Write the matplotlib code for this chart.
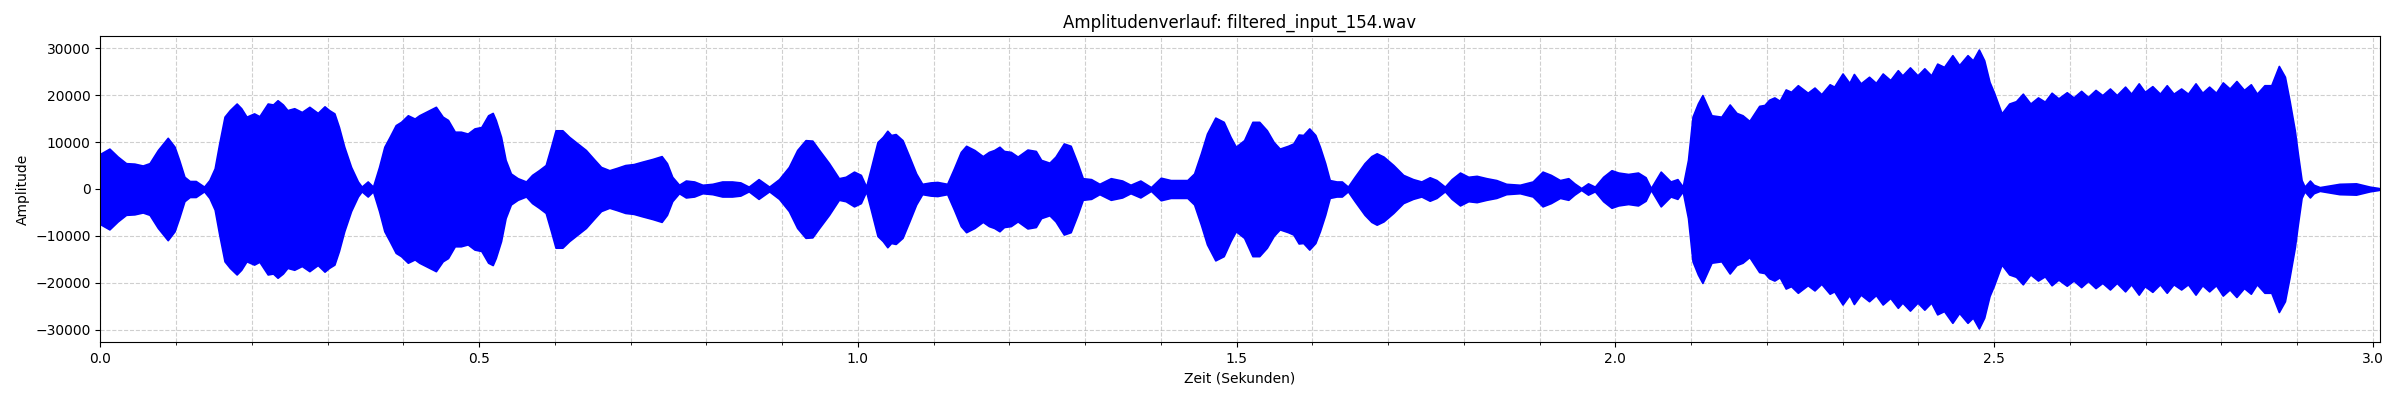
import matplotlib
matplotlib.use('Agg')
import matplotlib.pyplot as plt
from matplotlib.ticker import MultipleLocator

# Envelope of the waveform (time in s, peak amplitude)
times = [
    0.000, 0.012, 0.023, 0.034, 0.045, 0.056, 0.065, 0.076, 0.089, 0.098,
    0.104, 0.111, 0.118, 0.126, 0.137, 0.144, 0.151, 0.157, 0.164, 0.171,
    0.180, 0.186, 0.193, 0.203, 0.210, 0.221, 0.228, 0.234, 0.241, 0.247,
    0.256, 0.266, 0.276, 0.287, 0.296, 0.302, 0.309, 0.315, 0.322, 0.331,
    0.340, 0.345, 0.353, 0.360, 0.368, 0.375, 0.382, 0.390, 0.397, 0.406,
    0.415, 0.421, 0.432, 0.443, 0.452, 0.459, 0.468, 0.476, 0.485, 0.494,
    0.503, 0.512, 0.518, 0.522, 0.529, 0.535, 0.542, 0.551, 0.562, 0.570,
    0.579, 0.588, 0.595, 0.601, 0.610, 0.619, 0.630, 0.641, 0.652, 0.661,
    0.672, 0.682, 0.693, 0.704, 0.715, 0.729, 0.741, 0.748, 0.755, 0.764,
    0.773, 0.784, 0.795, 0.808, 0.821, 0.834, 0.845, 0.856, 0.869, 0.883,
    0.896, 0.909, 0.920, 0.931, 0.940, 0.949, 0.962, 0.975, 0.984, 0.995,
    1.004, 1.011, 1.018, 1.026, 1.033, 1.039, 1.044, 1.050, 1.059, 1.068,
    1.077, 1.085, 1.096, 1.105, 1.118, 1.127, 1.136, 1.143, 1.154, 1.165,
    1.173, 1.180, 1.187, 1.193, 1.202, 1.211, 1.224, 1.235, 1.242, 1.253,
    1.261, 1.272, 1.281, 1.290, 1.297, 1.308, 1.319, 1.334, 1.349, 1.360,
    1.373, 1.387, 1.400, 1.413, 1.435, 1.444, 1.453, 1.461, 1.472, 1.483,
    1.492, 1.499, 1.510, 1.521, 1.530, 1.540, 1.549, 1.557, 1.568, 1.575,
    1.582, 1.588, 1.596, 1.604, 1.610, 1.617, 1.623, 1.632, 1.639, 1.647,
    1.656, 1.669, 1.678, 1.685, 1.694, 1.707, 1.720, 1.733, 1.744, 1.755,
    1.764, 1.775, 1.784, 1.795, 1.806, 1.817, 1.830, 1.843, 1.856, 1.874,
    1.891, 1.904, 1.915, 1.927, 1.938, 1.946, 1.955, 1.964, 1.973, 1.984,
    1.995, 2.004, 2.017, 2.030, 2.040, 2.047, 2.060, 2.073, 2.082, 2.089,
    2.096, 2.102, 2.109, 2.115, 2.127, 2.140, 2.151, 2.160, 2.168, 2.177,
    2.190, 2.197, 2.203, 2.210, 2.217, 2.225, 2.232, 2.241, 2.254, 2.263,
    2.272, 2.283, 2.289, 2.300, 2.309, 2.315, 2.324, 2.335, 2.344, 2.353,
    2.363, 2.373, 2.379, 2.389, 2.399, 2.408, 2.417, 2.425, 2.434, 2.445,
    2.454, 2.465, 2.472, 2.480, 2.487, 2.494, 2.500, 2.510, 2.520, 2.529,
    2.538, 2.548, 2.558, 2.567, 2.576, 2.585, 2.596, 2.605, 2.615, 2.624,
    2.634, 2.643, 2.653, 2.662, 2.673, 2.681, 2.691, 2.699, 2.709, 2.719,
    2.728, 2.737, 2.747, 2.756, 2.766, 2.775, 2.784, 2.793, 2.802, 2.811,
    2.820, 2.830, 2.839, 2.847, 2.857, 2.866, 2.876, 2.884, 2.890, 2.897,
    2.901, 2.906, 2.910, 2.917, 2.922, 2.930, 2.956, 2.978, 2.996, 3.008,
]
amps = [
    7500, 8600, 6900, 5500, 5400, 5000, 5500, 8300, 10900, 9000,
    6200, 2600, 1700, 1700, 500, 1900, 4400, 9700, 15400, 16800,
    18200, 17200, 15400, 16100, 15500, 18200, 18000, 18900, 18000, 16800,
    17200, 16400, 17500, 16200, 17600, 16800, 16100, 13200, 9000, 4700,
    1600, 500, 1600, 500, 4700, 9000, 11100, 13600, 14300, 15700,
    15000, 15700, 16600, 17500, 15400, 14700, 12200, 12200, 11800, 12900,
    13200, 15700, 16200, 14700, 11100, 6200, 3300, 2300, 1600, 3000,
    4000, 5100, 9000, 12500, 12500, 11100, 9700, 8300, 6300, 4700,
    4000, 4500, 5100, 5300, 5800, 6400, 7000, 5500, 2600, 900,
    1800, 1600, 900, 1100, 1600, 1600, 1400, 500, 2100, 500,
    2100, 4700, 8300, 10400, 10300, 8300, 5500, 2300, 2600, 3700,
    3000, 500, 4900, 10000, 11100, 12400, 11500, 11700, 10400, 6900,
    3300, 1100, 1400, 1500, 1100, 4400, 7900, 9200, 8300, 7000,
    7900, 8300, 9000, 8100, 7900, 6900, 8400, 8100, 6200, 5600,
    6900, 9700, 9200, 5500, 2300, 2100, 1100, 2300, 1800, 900,
    1800, 400, 2400, 1900, 1900, 3300, 7600, 11800, 15200, 14300,
    11100, 9000, 10400, 14300, 14300, 12500, 10000, 8600, 9200, 9700,
    11600, 11500, 12900, 11500, 9000, 5500, 1900, 1600, 1600, 500,
    2600, 5500, 7000, 7600, 6900, 5100, 3000, 2100, 1600, 2500,
    1900, 500, 2100, 3500, 2600, 2800, 2300, 1900, 1100, 900,
    1600, 3700, 3000, 1900, 2300, 1200, 200, 1200, 500, 2600,
    4000, 3500, 3200, 3500, 2500, 200, 3700, 1600, 2100, 500,
    6200, 15400, 18200, 20000, 15700, 15400, 18000, 16200, 15700, 14500,
    17700, 17900, 19000, 19500, 18800, 21200, 20700, 22100, 20500, 21600,
    20200, 22300, 21800, 24600, 22600, 24500, 22500, 23900, 22600, 24600,
    23200, 25300, 24200, 25900, 24200, 25700, 24200, 26700, 26000, 28500,
    26400, 28500, 27400, 29700, 27400, 22800, 20500, 16100, 18200, 18700,
    20300, 18200, 19500, 18600, 20500, 19300, 20600, 19500, 20900, 19600,
    21100, 20000, 21400, 20000, 21800, 20300, 22500, 20700, 21900, 20300,
    22100, 20300, 21400, 20300, 22500, 20500, 21800, 20500, 22700, 21400,
    23000, 21100, 22300, 20300, 22100, 22100, 26200, 23900, 18900, 12500,
    7600, 1900, 500, 1800, 900, 400, 1100, 1200, 500, 200,
]
duration = 3.009

lower = [-a for a in amps]

plt.figure(figsize=(24, 4), dpi=100)
# zorder above the grid so the dashed lines are hidden under the waveform
plt.fill_between(times, lower, amps, color='blue', linewidth=1.2, zorder=2)
plt.title('Amplitudenverlauf: filtered_input_154.wav')
plt.xlabel('Zeit (Sekunden)')
plt.ylabel('Amplitude')
plt.xlim(0, duration)
plt.gca().xaxis.set_minor_locator(MultipleLocator(0.1))
plt.grid(True, which='both', linestyle='--', alpha=0.6)
plt.subplots_adjust(left=0.0418, right=0.9915, top=0.911, bottom=0.144)
plt.savefig('out.png')
